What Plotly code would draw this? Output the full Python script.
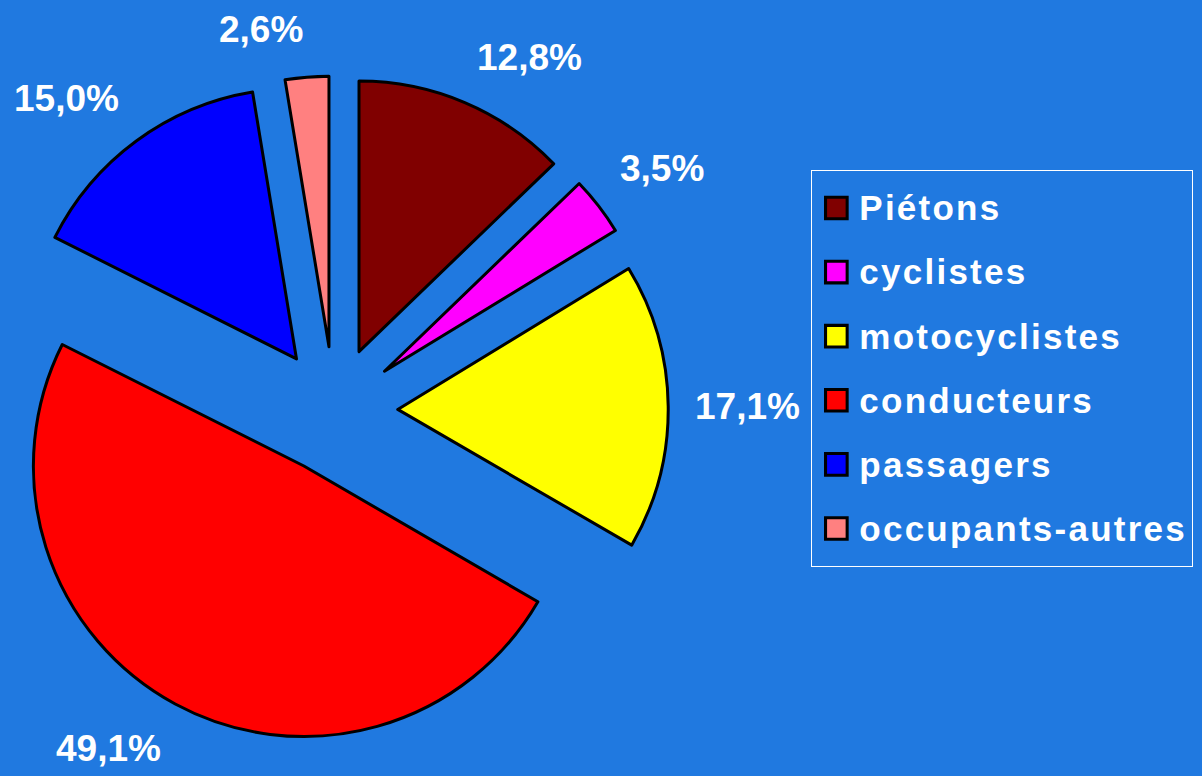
import math
import plotly.graph_objects as go

categories = ["Piétons", "cyclistes", "motocyclistes", "conducteurs", "passagers", "occupants-autres"]
values = [12.8, 3.5, 17.1, 49.1, 15.0, 2.6]
colors = ["#800000", "#FF00FF", "#FFFF00", "#FF0000", "#0000FF", "#FF8080"]

BG = "#2079E0"
FONT = "Liberation Sans, Arial, sans-serif"
W, H = 1202, 776
DOM_X = [0.0, 0.556]
DOM_Y = [0.041, 0.902]
PULL = 0.235
LABEL_GAP = 25

legend_labels = [
    "<span style='font-size:25px'>\u00a0</span>"
    "<span style='font-size:35px;letter-spacing:2.25px;baseline-shift:6px'>%s</span>" % c
    for c in categories
]

fig = go.Figure(go.Pie(
    labels=legend_labels,
    values=values,
    sort=False,
    direction="clockwise",
    rotation=0,
    pull=PULL,
    marker=dict(colors=colors, line=dict(color="black", width=3)),
    textinfo="none",
    hoverinfo="skip",
    domain=dict(x=DOM_X, y=DOM_Y),
))

# percentage labels placed outside each slice, following its bisector
cx = (DOM_X[0] + DOM_X[1]) / 2 * W
cy = (1 - (DOM_Y[0] + DOM_Y[1]) / 2) * H
r = min((DOM_X[1] - DOM_X[0]) * W, (DOM_Y[1] - DOM_Y[0]) * H) / (2 * (1 + PULL))
R_lab = r * (1 + PULL) + LABEL_GAP
total = sum(values)
cum = 0.0
annotations = []
for v in values:
    mid = (cum + v / 2) / total
    cum += v
    th = 2 * math.pi * mid
    sx, sy = math.sin(th), math.cos(th)
    px = cx + R_lab * sx
    py = cy - R_lab * sy
    xa = "left" if sx > 0.15 else ("right" if sx < -0.15 else "right")
    ya = "bottom" if sy > 0.3 else ("top" if sy < -0.3 else "middle")
    annotations.append(dict(
        x=px / W, y=1 - py / H, xref="paper", yref="paper",
        text=("%.1f" % v).replace(".", ",") + "%",
        showarrow=False, xanchor=xa, yanchor=ya,
        font=dict(family=FONT, size=37, color="white", weight="bold"),
    ))

fig.update_layout(
    width=W, height=H,
    paper_bgcolor=BG, plot_bgcolor=BG,
    margin=dict(l=0, r=0, t=0, b=0, autoexpand=False),
    showlegend=True,
    annotations=annotations,
    legend=dict(
        x=0.675, y=0.781, xanchor="left", yanchor="top",
        bgcolor=BG, bordercolor="white", borderwidth=1,
        font=dict(family=FONT, size=47, color="white", weight="bold"),
        itemclick=False, itemdoubleclick=False,
    ),
)

post = (
    "document.body.style.margin='0';"
    "document.body.style.background='%s';"
    "document.querySelectorAll('.legendpoints path').forEach(function(p){"
    "p.setAttribute('transform','translate(24,0) scale(1.8)');"
    "p.style.strokeWidth='1.7px';});"
) % BG

fig.write_html("out.html", config={"displayModeBar": False}, post_script=post)
